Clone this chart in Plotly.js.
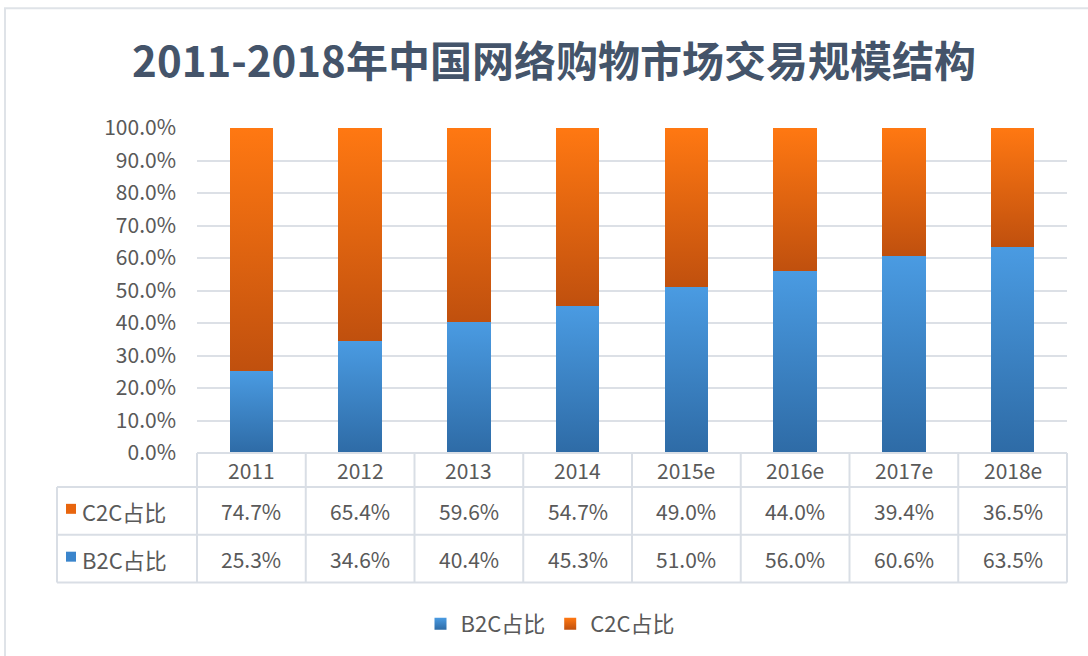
<!DOCTYPE html>
<html>
<head>
<meta charset="utf-8">
<script src="https://cdn.plot.ly/plotly-3.0.1.min.js"></script>
<style>
html,body{margin:0;padding:0;background:#fff;}
#chart{width:1088px;height:656px;}
</style>
</head>
<body>
<div id="chart"></div>
<script>
// ---- data ----
const categories = ["2011","2012","2013","2014","2015e","2016e","2017e","2018e"];
const seriesNames = ["B2C占比","C2C占比"];
const b2cValues = [25.3, 34.6, 40.4, 45.3, 51.0, 56.0, 60.6, 63.5];
const c2cValues = [74.7, 65.4, 59.6, 54.7, 49.0, 44.0, 39.4, 36.5];
const yTickVals = [0,10,20,30,40,50,60,70,80,90,100];
const yTickText = ["0.0%","10.0%","20.0%","30.0%","40.0%","50.0%","60.0%","70.0%","80.0%","90.0%","100.0%"];
const titleText = "2011-2018年中国网络购物市场交易规模结构";

// ---- layout geometry (pixels) ----
const W = 1088, H = 656;
const plotL = 197, plotR = 1067, plotT = 128, plotB = 454;
const pw = plotR - plotL, ph = plotB - plotT;
const px = X => (X - plotL) / pw;      // pixel x -> paper x
const py = Y => (plotB - Y) / ph;      // pixel y -> paper y

const textColor = "#595959";
const gridColor = "#DCE0E6";
const tableLine = "#D9DEE5";
const fontFam = "'Noto Sans CJK SC', 'Noto Sans', sans-serif";

const rowHeader = 488, rowC2C = 536, rowB2C = 584, leftColX = 57;

const traces = [
  {type:"bar", name:seriesNames[0], x:categories, y:b2cValues, width:0.40,
   marker:{color:"#3A85CC", line:{width:0}}, hoverinfo:"x+y+name"},
  {type:"bar", name:seriesNames[1], x:categories, y:c2cValues, width:0.40,
   marker:{color:"#E8650E", line:{width:0}}, hoverinfo:"x+y+name"}
];

const shapes = [];
const annotations = [];
const n = categories.length;
// outer frame
shapes.push({type:"rect", xref:"paper", yref:"paper", x0:px(5), x1:px(1120), y0:py(8), y1:py(700),
  line:{color:"#DFE3E8", width:2}, fillcolor:"rgba(0,0,0,0)", layer:"below"});
// table horizontal lines
shapes.push({type:"line", xref:"paper", yref:"paper", x0:0, x1:1, y0:0, y1:0, line:{color:tableLine, width:2}});
[rowHeader, rowC2C, rowB2C].forEach(Y => {
  shapes.push({type:"line", xref:"paper", yref:"paper", x0:px(leftColX), x1:1, y0:py(Y), y1:py(Y), line:{color:tableLine, width:2}});
});
// table vertical lines
shapes.push({type:"line", xref:"paper", yref:"paper", x0:px(leftColX), x1:px(leftColX), y0:py(rowHeader), y1:py(rowB2C), line:{color:tableLine, width:2}});
for (let i = 0; i <= n; i++) {
  shapes.push({type:"line", xref:"paper", yref:"paper", x0:i/n, x1:i/n, y0:0, y1:py(rowB2C), line:{color:tableLine, width:2}});
}
// header row (categories) and values; x uses category index on the category axis
const valFont = {family:fontFam, size:21, color:textColor};
categories.forEach((c, i) => {
  annotations.push({xref:"x", yref:"paper", x:i, y:py((plotB+rowHeader)/2), text:c, showarrow:false,
    xanchor:"center", yanchor:"middle", font:valFont});
  annotations.push({xref:"x", yref:"paper", x:i, y:py((rowHeader+rowC2C)/2), text:c2cValues[i].toFixed(1)+"%", showarrow:false,
    xanchor:"center", yanchor:"middle", font:valFont});
  annotations.push({xref:"x", yref:"paper", x:i, y:py((rowC2C+rowB2C)/2), text:b2cValues[i].toFixed(1)+"%", showarrow:false,
    xanchor:"center", yanchor:"middle", font:valFont});
});
// row labels with key squares
const rowLabels = [
  {name:seriesNames[1], top:rowHeader, bot:rowC2C, color:"#E8650E"},
  {name:seriesNames[0], top:rowC2C, bot:rowB2C, color:"#3A85CC"}
];
rowLabels.forEach(r => {
  const cy = (r.top + r.bot)/2;
  shapes.push({type:"rect", xref:"paper", yref:"paper", x0:px(66), x1:px(76), y0:py(cy-7), y1:py(cy+3),
    fillcolor:r.color, line:{width:0}});
  annotations.push({xref:"paper", yref:"paper", x:px(80), y:py(cy), text:r.name, showarrow:false,
    xanchor:"left", yanchor:"middle", font:{family:fontFam, size:22, color:textColor}});
});

const layout = {
  width:W, height:H,
  margin:{l:plotL, r:W-plotR, t:plotT, b:H-plotB, pad:0},
  paper_bgcolor:"#ffffff", plot_bgcolor:"#ffffff",
  barmode:"stack",
  title:{text:titleText, x:554/W, xanchor:"center", xref:"container", y:1-62/H, yref:"container", yanchor:"middle",
    font:{family:fontFam, size:42, color:"#44546A", weight:"bold"}},
  xaxis:{type:"category", showticklabels:false, showgrid:false, zeroline:false, showline:false, ticks:"",
    range:[-0.5, n-0.5]},
  yaxis:{range:[0,100], tickmode:"array", tickvals:yTickVals, ticktext:yTickText, showgrid:true, gridcolor:gridColor, gridwidth:2,
    zeroline:false, showline:false, ticks:"", ticklabelstandoff:20,
    tickfont:{family:fontFam, size:21, color:textColor}},
  showlegend:true,
  legend:{orientation:"h", x:px(550), xanchor:"center", y:py(624), yanchor:"middle", traceorder:"normal",
    font:{family:fontFam, size:22, color:textColor}, itemwidth:30, itemclick:false, itemdoubleclick:false},
  shapes:shapes,
  annotations:annotations
};

const gradients = [
  {id:"gradB2C", top:"#4A9BE2", bot:"#2E6BA6"},
  {id:"gradC2C", top:"#FF7812", bot:"#C0500E"}
];

function applyGradients(gd){
  const ns = "http://www.w3.org/2000/svg";
  const svg = gd.querySelector("svg.main-svg");
  let defs = svg.querySelector("defs");
  if (!defs) { defs = document.createElementNS(ns, "defs"); svg.insertBefore(defs, svg.firstChild); }
  gradients.forEach(g => {
    if (defs.querySelector("#"+g.id)) return;
    const lg = document.createElementNS(ns, "linearGradient");
    lg.setAttribute("id", g.id);
    lg.setAttribute("x1","0"); lg.setAttribute("y1","0"); lg.setAttribute("x2","0"); lg.setAttribute("y2","1");
    [[0,g.top],[1,g.bot]].forEach(([o,c]) => {
      const s = document.createElementNS(ns, "stop");
      s.setAttribute("offset", o); s.setAttribute("stop-color", c);
      lg.appendChild(s);
    });
    defs.appendChild(lg);
  });
  gd.querySelectorAll(".barlayer .trace").forEach(t => {
    const d = t.__data__; const idx = d && d[0] && d[0].trace ? d[0].trace.index : 0;
    t.querySelectorAll("path").forEach(p => { p.style.fill = "url(#"+gradients[idx].id+")"; });
  });
  gd.querySelectorAll(".legend .traces").forEach(t => {
    const d = t.__data__; const idx = d && d[0] && d[0].trace ? d[0].trace.index : 0;
    t.querySelectorAll(".legendpoints path").forEach(p => { p.style.fill = "url(#"+gradients[idx].id+")"; });
  });
}

Plotly.newPlot("chart", traces, layout, {displayModeBar:false, staticPlot:true}).then(applyGradients);
</script>
</body>
</html>
